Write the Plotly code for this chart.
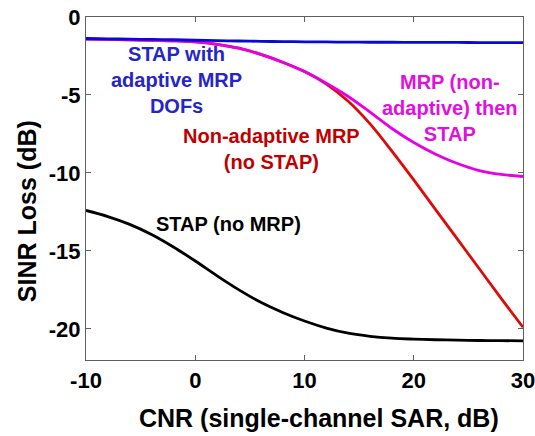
import plotly.graph_objects as go

cnr = [-10, -8, -6, -4, -2, 0, 2, 4, 6, 8, 10, 12, 14, 16, 18, 20, 22, 24, 26, 28, 30]

stap_adaptive_mrp = [-1.38, -1.40, -1.42, -1.44, -1.46, -1.49, -1.52, -1.54, -1.56, -1.58, -1.59,
                     -1.60, -1.61, -1.62, -1.62, -1.63, -1.63, -1.63, -1.64, -1.64, -1.64]
mrp_then_stap = [-1.42, -1.44, -1.46, -1.49, -1.53, -1.60, -1.75, -2.00, -2.40, -2.90, -3.50,
                 -4.25, -5.10, -6.10, -7.15, -8.05, -8.80, -9.40, -9.85, -10.10, -10.23]
nonadaptive_mrp = [-1.42, -1.44, -1.46, -1.49, -1.53, -1.60, -1.75, -2.00, -2.40, -2.90, -3.50,
                   -4.30, -5.40, -6.85, -8.60, -10.45, -12.35, -14.25, -16.15, -18.05, -19.90]
stap_no_mrp = [-12.41, -12.80, -13.30, -13.95, -14.75, -15.65, -16.60, -17.50, -18.30, -18.95, -19.50,
               -19.95, -20.28, -20.48, -20.60, -20.66, -20.70, -20.73, -20.75, -20.76, -20.77]

x_ticks = [-10, 0, 10, 20, 30]
y_ticks = [0, -5, -10, -15, -20]

FONT = "Liberation Sans, Arial, sans-serif"

fig = go.Figure()
fig.add_trace(go.Scatter(x=cnr, y=stap_no_mrp, mode="lines", line=dict(color="#000000", width=2.8, shape="spline")))
fig.add_trace(go.Scatter(x=cnr, y=nonadaptive_mrp, mode="lines", line=dict(color="#dd0a0a", width=2.8, shape="spline")))
fig.add_trace(go.Scatter(x=cnr, y=mrp_then_stap, mode="lines", line=dict(color="#e600e6", width=2.8, shape="spline")))
fig.add_trace(go.Scatter(x=cnr, y=stap_adaptive_mrp, mode="lines", line=dict(color="#0808d8", width=2.8, shape="spline")))

def ann(text, x, y, color):
    fig.add_annotation(x=x, y=y, xref="x", yref="y", text="<b>" + text + "</b>", showarrow=False,
                       font=dict(family=FONT, size=20, color=color), align="center",
                       xanchor="center", yanchor="middle")

ann("STAP with<br>adaptive MRP<br>DOFs", -1.76, -4.05, "#2525c8")
ann("Non-adaptive MRP<br>(no STAP)", 7.0, -8.46, "#c00000")
ann("MRP (non-<br>adaptive) then<br>STAP", 23.3, -5.85, "#e010e0")
ann("STAP (no MRP)", 3.0, -13.25, "#000000")

# axis titles placed as paper annotations
fig.add_annotation(x=0.533, y=-0.169, xref="paper", yref="paper", text="<b>CNR (single-channel SAR, dB)</b>",
                   showarrow=False, font=dict(family=FONT, size=25, color="#000000"),
                   xanchor="center", yanchor="middle")
fig.add_annotation(x=-0.135, y=0.434, xref="paper", yref="paper", text="<b>SINR Loss (dB)</b>",
                   showarrow=False, textangle=-90, font=dict(family=FONT, size=25, color="#000000"),
                   xanchor="center", yanchor="middle")

axis_common = dict(showline=True, linecolor="#606060", linewidth=1.2, mirror="ticks",
                   ticks="inside", ticklen=5, tickcolor="#606060", showgrid=False, zeroline=False,
                   automargin=False, ticklabeloverflow="allow",
                   tickfont=dict(family=FONT, size=22, color="#000000"))

fig.update_xaxes(range=[-10, 30], tickvals=x_ticks, ticktext=[f"<b>{v}</b>" for v in x_ticks],
                 **axis_common)
fig.update_yaxes(range=[-22, 0], tickvals=y_ticks, ticktext=[f"<b>{v}</b>" for v in y_ticks],
                 **axis_common)

fig.update_layout(width=535, height=436, margin=dict(l=86, r=12, t=17, b=76, autoexpand=False),
                  paper_bgcolor="white", plot_bgcolor="white", showlegend=False)

fig.write_html("out.html", config={"displayModeBar": False},
               post_script="document.body.style.margin='0';document.body.style.overflow='hidden';")
